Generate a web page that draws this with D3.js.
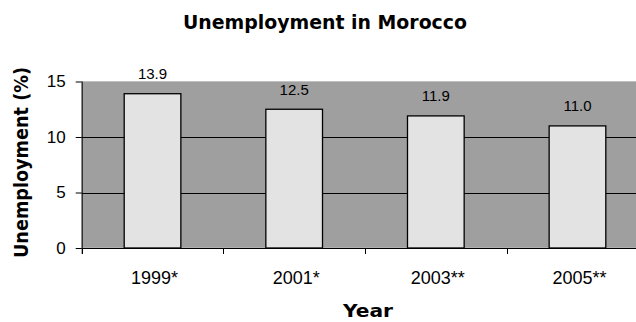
<!DOCTYPE html>
<html>
<head>
<meta charset="utf-8">
<script src="https://cdn.jsdelivr.net/npm/d3@7"></script>
<style>
  body { margin: 0; background: #fff; }
  text { font-family: "Liberation Sans", Arial, sans-serif; fill: #000; }
  .bold { font-family: "DejaVu Sans", sans-serif; font-weight: bold; }
</style>
</head>
<body>
<div id="chart"></div>
<script>
// data
const years = ["1999*", "2001*", "2003**", "2005**"];
const unemployment = [13.9, 12.5, 11.9, 11.0];
const yTicks = [0, 5, 10, 15];

const width = 636, height = 322;
const plot = { left: 81.7, right: 648.3, top: 81.5, bottom: 248 };

const svg = d3.select("#chart").append("svg")
  .attr("width", width)
  .attr("height", height);

const x = d3.scaleBand()
  .domain(years)
  .range([plot.left, plot.right])
  .paddingInner(0.6)
  .paddingOuter(0.3);

const y = d3.scaleLinear()
  .domain([0, 15])
  .range([plot.bottom, plot.top]);

// plot area
svg.append("rect")
  .attr("x", plot.left)
  .attr("y", y(15))
  .attr("width", plot.right - plot.left)
  .attr("height", y(0) - y(15))
  .attr("fill", "#9f9f9f")
  .attr("stroke", "#c0c0c0");

// gridlines
svg.append("g")
  .selectAll("line")
  .data(yTicks.filter(d => d > 0 && d < 15))
  .join("line")
  .attr("x1", plot.left)
  .attr("x2", plot.right)
  .attr("y1", d => Math.round(y(d)) + 0.5)
  .attr("y2", d => Math.round(y(d)) + 0.5)
  .attr("stroke", "#000");

// bars
svg.append("g")
  .selectAll("rect")
  .data(unemployment)
  .join("rect")
  .attr("x", (d, i) => x(years[i]))
  .attr("y", d => y(d))
  .attr("width", x.bandwidth())
  .attr("height", d => y(0) - y(d))
  .attr("fill", "#e3e3e3")
  .attr("stroke", "#000")
  .attr("stroke-width", 1.3);

// value labels
svg.append("g")
  .selectAll("text")
  .data(unemployment)
  .join("text")
  .attr("x", (d, i) => x(years[i]) + x.bandwidth() / 2)
  .attr("y", d => y(d) - 14.5)
  .attr("text-anchor", "middle")
  .style("font-size", "15px")
  .text(d => d.toFixed(1));

// y axis
const yAxis = d3.axisLeft(y)
  .tickValues(yTicks)
  .tickSize(6)
  .tickPadding(10)
  .tickSizeOuter(0);

svg.append("g")
  .attr("transform", `translate(${plot.left},0)`)
  .call(yAxis)
  .call(g => g.select(".domain").attr("d", `M0.5,${plot.top}V${plot.bottom + 6}`))
  .call(g => g.selectAll("text").style("font-size", "17px").attr("fill", "#000"));

// x axis: baseline + ticks at category boundaries
const bounds = years.map(d => x(d) + x.bandwidth() / 2 - x.step() / 2);
bounds.push(plot.right);

svg.append("line")
  .attr("x1", plot.left)
  .attr("x2", plot.right)
  .attr("y1", plot.bottom + 0.5)
  .attr("y2", plot.bottom + 0.5)
  .attr("stroke", "#000");

svg.append("g")
  .selectAll("line")
  .data(bounds)
  .join("line")
  .attr("x1", d => Math.round(d) + 0.5)
  .attr("x2", d => Math.round(d) + 0.5)
  .attr("y1", plot.bottom)
  .attr("y2", plot.bottom + 6)
  .attr("stroke", "#000");

svg.append("g")
  .selectAll("text")
  .data(years)
  .join("text")
  .attr("x", d => x(d) + x.bandwidth() / 2 + 2)
  .attr("y", 284)
  .attr("text-anchor", "middle")
  .style("font-size", "18px")
  .text(d => d);

// titles
svg.append("text")
  .attr("class", "bold")
  .attr("x", 325)
  .attr("y", 28.5)
  .attr("text-anchor", "middle")
  .attr("textLength", 284)
  .attr("lengthAdjust", "spacingAndGlyphs")
  .style("font-size", "20px")
  .text("Unemployment in Morocco");

svg.append("text")
  .attr("class", "bold")
  .attr("x", 368)
  .attr("y", 317)
  .attr("text-anchor", "middle")
  .attr("textLength", 50)
  .attr("lengthAdjust", "spacingAndGlyphs")
  .style("font-size", "17px")
  .text("Year");

svg.append("text")
  .attr("class", "bold")
  .attr("transform", "translate(28,162.5) rotate(-90)")
  .attr("text-anchor", "middle")
  .attr("textLength", 191)
  .attr("lengthAdjust", "spacingAndGlyphs")
  .style("font-size", "20px")
  .text("Unemployment (%)");
</script>
</body>
</html>
